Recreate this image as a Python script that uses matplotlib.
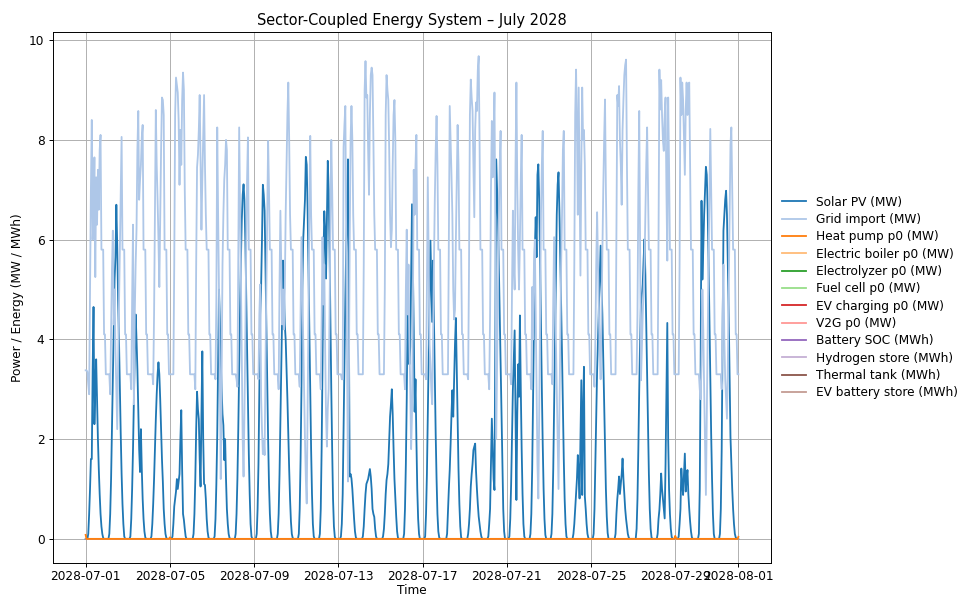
import numpy as np
import pandas as pd
import matplotlib
matplotlib.use("Agg")
import matplotlib.pyplot as plt

# ---------------- data (hourly, July 2028) ----------------
start = "2028-07-01 00:00"

solar_days = [
    [0,0,0,0.1,0.5,1.0,1.6,1.6,3.4,4.65,2.3,3.0,3.6,2.8,2.0,1.4,0.9,0.5,0.25,0.1,0.02,0,0,0],
    [0,0,0,0.1,0.5,1.2,2.2,3.2,4.2,5.2,5.65,6.7,5.9,4.8,4.0,3.0,2.1,1.3,0.7,0.3,0.05,0,0,0],
    [0,0,0,0.05,0.4,1.0,1.8,2.8,3.6,4.5,4.0,3.4,2.6,1.8,1.34,2.2,1.4,0.8,0.4,0.15,0.03,0,0,0],
    [0,0,0,0.05,0.3,0.7,1.2,1.8,2.4,2.9,3.3,3.54,3.3,2.8,2.2,1.6,1.15,0.6,0.3,0.1,0.02,0,0,0],
    [0,0,0,0.05,0.3,0.65,0.8,0.95,1.2,1.0,1.15,1.3,2.0,2.58,1.4,0.5,0.38,0.2,0.05,0,0,0,0,0],
    [0,0,0,0.1,0.5,1.2,2.2,2.95,2.6,2.4,1.6,1.05,2.5,3.76,2.0,1.1,1.08,0.8,0.4,0.15,0.03,0,0,0],
    [0,0,0,0.05,0.4,1.1,2.08,3.5,5.0,4.4,3.6,3.0,2.5,2.28,1.58,2.0,1.2,0.6,0.3,0.1,0.02,0,0,0],
    [0,0,0,0.1,0.5,1.2,2.2,3.4,4.6,5.6,6.4,6.9,7.11,6.8,6.0,4.9,3.8,2.7,1.7,0.9,0.3,0.05,0,0],
    [0,0,0,0.1,0.6,1.5,3.0,4.5,5.05,6.0,7.1,6.9,6.58,5.4,4.1,3.0,2.0,1.1,0.5,0.15,0.02,0,0,0],
    [0,0,0,0.1,0.5,1.3,2.4,3.6,4.6,5.58,5.0,4.3,4.0,3.4,2.8,2.1,1.4,0.8,0.35,0.1,0.02,0,0,0],
    [0,0,0,0.1,0.6,1.6,3.0,5.0,6.0,6.4,6.8,7.66,7.5,6.6,5.4,4.1,2.9,1.8,0.9,0.3,0.05,0,0,0],
    [0,0,0,0.1,0.6,1.8,3.5,5.5,6.57,6.2,5.22,6.4,7.58,7.0,5.8,4.4,3.0,1.8,0.8,0.25,0.04,0,0,0],
    [0,0,0,0.05,0.3,0.9,2.28,3.5,4.8,5.85,6.45,7.61,4.5,1.25,1.3,1.21,1.0,0.7,0.4,0.15,0.03,0,0,0],
    [0,0,0,0,0.05,0.25,0.6,0.9,1.1,1.15,1.2,1.3,1.4,1.25,1.0,0.6,0.5,0.44,0.2,0.05,0,0,0,0],
    [0,0,0,0.05,0.2,0.5,0.9,1.18,1.3,1.5,2.0,2.45,2.7,3.0,2.5,1.8,1.2,0.8,0.45,0.15,0.02,0,0,0],
    [0,0,0,0.1,0.6,1.5,2.8,4.65,3.9,3.5,3.85,5.2,6.71,5.5,4.2,2.55,3.2,2.0,1.0,0.4,0.1,0,0,0],
    [0,0,0,0.05,0.5,1.3,2.5,3.8,4.8,5.98,5.2,4.35,5.58,4.4,3.2,2.1,1.2,0.5,0.15,0.03,0,0,0,0],
    [0,0,0,0,0.1,0.55,1.0,1.38,1.9,2.5,2.98,2.45,3.2,3.9,4.43,3.4,2.3,1.4,0.7,0.25,0.03,0,0,0],
    [0,0,0,0,0.1,0.3,0.6,1.05,1.3,1.5,1.78,1.85,1.91,1.35,1.0,0.7,0.45,0.3,0.15,0.05,0,0,0,0],
    [0,0,0,0.05,0.3,0.6,1.5,2.41,1.8,1.2,0.98,4.5,7.61,7.0,6.4,5.5,4.5,3.5,2.5,1.4,0.6,0.15,0,0],
    [0,0,0,0.05,0.4,1.1,2.0,3.0,3.6,4.18,2.5,0.78,2.5,3.5,2.85,4.48,3.0,1.8,0.9,0.3,0.05,0,0,0],
    [0,0,0,0.1,0.5,1.4,2.8,4.4,5.8,6.45,5.65,7.3,7.51,6.8,5.6,4.3,3.0,1.9,1.0,0.4,0.08,0,0,0],
    [0,0,0,0.1,0.5,1.4,2.7,4.1,5.4,6.5,7.1,7.35,6.6,5.65,4.8,3.7,2.6,1.6,0.8,0.3,0.05,0,0,0],
    [0,0,0,0,0.1,0.3,0.6,0.9,1.2,1.68,1.3,0.81,2.0,3.18,0.88,2.5,3.45,0.85,0.6,0.3,0.1,0.02,0,0],
    [0,0,0,0.1,0.6,1.5,2.5,3.38,4.0,4.6,5.2,5.88,5.11,4.5,3.6,2.6,1.7,1.0,0.45,0.12,0,0,0,0],
    [0,0,0,0,0.1,0.5,0.8,1.0,1.25,0.9,1.1,1.3,1.61,1.2,0.9,0.6,0.4,0.25,0.1,0.03,0,0,0,0],
    [0,0,0,0,0.2,0.8,1.8,3.0,4.0,4.71,4.9,5.11,5.6,6.01,5.3,4.3,3.2,2.2,1.3,0.6,0.2,0.03,0,0],
    [0,0,0,0,0.1,0.4,0.58,0.9,1.31,1.0,0.8,0.6,0.41,1.5,3.0,4.33,2.0,1.0,0.5,0.2,0.04,0,0,0],
    [0,0,0,0,0.05,0.3,0.6,1.41,1.1,0.88,1.3,1.71,0.95,1.2,1.38,0.9,0.6,0.35,0.15,0.03,0,0,0,0],
    [0,0,0,0.1,1.0,3.5,6.78,5.2,5.8,6.5,7.0,7.46,7.3,6.6,5.6,4.4,3.2,2.1,1.2,0.5,0.1,0,0,0],
    [0,0,0,0.1,0.6,1.8,4.0,6.18,6.5,6.8,6.98,6.5,5.5,4.5,3.3,2.05,1.5,1.0,0.6,0.3,0.1,0.03,0,0],
]
solar_last = 0.0

grid_days = [
    [3.38,3.38,3.35,3.1,2.9,5.0,7.0,8.4,6.0,6.5,7.65,5.25,7.25,6.3,7.4,6.6,7.8,8.1,5.8,5.8,5.8,4.1,4.1,3.3],
    [3.3,3.3,3.3,3.3,2.9,4.2,5.4,6.18,4.3,5.0,3.8,3.0,2.2,3.5,4.6,5.8,7.0,8.06,5.8,5.8,5.8,4.1,4.1,3.3],
    [3.3,3.3,3.3,3.3,3.0,4.8,6.3,2.7,4.5,5.5,6.2,7.8,8.58,6.8,7.2,7.5,8.05,8.3,5.8,5.8,5.8,4.1,4.1,3.3],
    [3.3,3.3,3.3,3.3,3.3,3.1,4.5,6.5,8.6,7.5,6.8,6.0,5.05,6.5,7.8,8.85,8.8,8.5,5.8,5.8,5.8,4.1,4.1,3.3],
    [3.3,3.3,3.3,3.3,3.3,5.5,8.5,9.25,9.1,8.95,8.4,7.1,8.2,7.5,8.8,9.35,9.0,7.0,5.8,5.8,5.8,4.1,4.1,3.3],
    [3.3,3.3,3.3,3.3,3.3,3.0,5.5,7.45,7.7,8.2,8.9,7.6,6.2,7.2,8.0,8.9,7.5,6.5,5.8,5.8,5.8,4.1,4.1,3.3],
    [3.3,3.3,3.3,3.3,3.2,4.8,8.25,6.5,5.0,3.0,1.2,3.2,5.5,6.5,7.2,7.5,8.0,7.8,5.8,5.8,5.8,4.1,4.1,3.3],
    [3.3,3.3,3.3,3.3,3.2,3.05,5.5,8.25,6.8,5.2,3.5,2.0,1.25,2.5,4.0,5.8,7.2,8.05,5.8,5.8,5.8,4.1,4.1,3.3],
    [3.3,3.3,3.3,3.3,3.3,3.2,4.5,5.1,2.85,2.2,1.7,2.0,1.68,3.5,5.0,6.5,7.98,7.0,5.8,5.8,5.8,4.1,4.1,3.3],
    [3.3,3.3,3.3,3.3,3.0,5.1,6.58,5.5,4.3,5.0,4.2,5.0,6.5,7.5,8.5,9.15,8.0,6.5,5.8,5.8,5.8,4.1,4.1,3.3],
    [3.3,3.3,3.3,3.3,3.05,4.5,6.05,5.0,4.0,3.0,2.0,1.2,0.71,2.5,4.5,6.5,8.08,6.5,5.8,5.8,5.8,4.1,4.1,3.3],
    [3.3,3.3,3.3,3.3,3.0,4.4,6.05,4.7,5.5,3.8,2.5,1.85,2.6,3.0,4.5,6.4,8.0,7.0,5.8,5.8,5.8,4.1,4.1,3.3],
    [3.3,3.3,3.3,3.3,3.2,3.2,7.85,8.3,8.68,6.0,3.5,1.15,3.0,6.0,8.0,8.68,8.0,6.5,5.8,5.8,5.8,4.1,4.1,3.3],
    [3.3,3.3,3.3,3.3,3.3,5.5,9.0,9.58,8.85,8.9,7.8,6.9,8.5,9.3,9.45,9.3,8.0,6.5,5.8,5.8,5.8,4.1,4.1,3.3],
    [3.3,3.3,3.3,3.3,3.3,5.0,8.5,9.3,9.0,8.8,7.8,6.5,5.85,6.2,7.5,8.5,8.8,8.0,5.8,5.8,5.8,4.1,4.1,3.3],
    [3.3,3.3,3.3,3.3,3.0,5.0,6.2,4.5,5.5,4.0,3.0,1.8,2.5,4.5,7.4,6.5,7.5,8.1,5.8,5.8,5.8,4.1,4.1,3.3],
    [3.3,3.3,3.3,3.3,3.2,5.0,7.25,5.5,3.9,3.5,3.0,2.7,4.0,5.5,6.8,7.8,8.48,7.5,5.8,5.8,5.8,4.1,4.1,3.3],
    [3.3,3.3,3.3,3.3,3.3,3.3,6.0,8.68,8.0,7.3,6.5,5.0,4.4,4.6,6.0,7.2,8.3,7.5,5.8,5.8,5.8,4.1,4.1,3.3],
    [3.3,3.3,3.3,3.3,3.2,5.5,8.5,9.21,8.85,8.58,7.5,6.45,8.2,8.75,8.58,9.4,9.68,8.0,5.8,5.8,5.8,4.1,4.1,3.3],
    [3.3,3.3,3.3,3.3,3.0,4.5,7.0,8.38,7.25,8.0,8.95,6.0,2.0,3.5,5.0,6.5,7.5,8.18,5.8,5.8,5.8,4.1,4.1,3.3],
    [3.3,3.3,3.3,3.3,3.3,3.1,5.0,6.58,5.5,5.0,7.5,9.15,7.1,5.8,5.0,6.0,7.2,8.1,5.8,5.8,5.8,4.1,4.1,3.3],
    [3.3,3.3,3.3,3.3,3.0,5.05,4.0,5.5,6.0,4.5,3.0,1.5,0.81,2.5,4.5,6.5,7.5,8.18,5.8,5.8,5.8,4.1,4.1,3.3],
    [3.3,3.3,3.3,3.3,3.1,4.8,6.05,5.0,4.0,3.0,2.0,1.0,2.5,4.0,5.5,6.5,7.8,8.18,5.8,5.8,5.8,4.1,4.1,3.3],
    [3.3,3.3,3.3,3.3,3.3,5.5,8.5,9.41,8.25,6.5,9.05,7.2,5.28,7.5,9.05,8.0,8.2,7.5,5.8,5.8,5.8,4.1,4.1,3.3],
    [3.3,3.3,3.3,3.3,3.05,4.0,5.5,6.55,5.5,4.5,3.8,3.2,4.5,5.8,7.0,8.0,8.81,7.0,5.8,5.8,5.8,4.1,4.1,3.3],
    [3.3,3.3,3.3,3.3,3.3,6.0,8.9,8.68,9.08,8.0,7.5,6.7,8.2,8.8,9.3,9.5,9.61,7.5,5.8,5.8,5.8,4.1,4.1,3.3],
    [3.3,3.3,3.3,3.3,3.3,4.5,7.0,8.58,6.0,3.18,3.8,4.5,5.0,5.5,6.5,7.5,8.25,7.0,5.8,5.8,5.8,4.1,4.1,3.3],
    [3.3,3.3,3.3,3.3,3.3,6.0,9.41,8.61,9.2,8.5,8.0,7.78,8.5,8.85,7.0,5.58,8.85,7.5,5.8,5.8,5.8,4.1,4.1,3.3],
    [3.3,3.3,3.3,3.3,3.3,5.5,9.25,8.5,9.15,8.8,8.0,7.3,8.6,9.15,8.5,9.0,9.15,7.5,5.8,5.8,5.8,4.1,4.1,3.3],
    [3.3,3.3,3.3,3.3,3.0,2.8,3.5,5.0,4.2,3.0,2.0,0.88,2.5,4.0,5.5,6.8,8.22,7.0,5.8,5.8,5.8,4.1,4.1,3.3],
    [3.3,3.3,3.3,3.3,3.3,3.0,4.5,5.5,4.0,3.2,2.8,2.41,3.5,5.0,6.5,7.9,8.25,7.0,5.8,5.8,5.8,4.1,4.1,3.3],
]
grid_last = 3.3

# heat pump: zero except a few tiny values (hour offset from start, MW)
heat_pump_hours = [0, 96, 672, 673, 744]
heat_pump_vals = [0.08, 0.03, 0.06, 0.02, 0.04]

labels = [
    "Solar PV (MW)", "Grid import (MW)", "Heat pump p0 (MW)",
    "Electric boiler p0 (MW)", "Electrolyzer p0 (MW)", "Fuel cell p0 (MW)",
    "EV charging p0 (MW)", "V2G p0 (MW)", "Battery SOC (MWh)",
    "Hydrogen store (MWh)", "Thermal tank (MWh)", "EV battery store (MWh)",
]

# ---------------- build series ----------------
solar = np.array([v for d in solar_days for v in d] + [solar_last])
grid = np.array([v for d in grid_days for v in d] + [grid_last])
n = len(solar)
idx = pd.date_range(start, periods=n, freq="h")
heat = np.zeros(n)
heat[heat_pump_hours] = heat_pump_vals
zero = np.zeros(n)

series = [solar, grid, heat] + [zero] * 9
colors = plt.get_cmap("tab20").colors

# ---------------- plot ----------------
dpi = 87.0
fig = plt.figure(figsize=(960 / dpi, 597 / dpi), dpi=dpi)
ax = fig.add_axes([53 / 960, 1 - 563 / 597, (771 - 53) / 960, (563 - 32) / 597])
for i, (s, lab, c) in enumerate(zip(series, labels, colors)):
    ax.plot(idx, s, label=lab, color=c, linewidth=1.5,
            zorder=2.5 if i == 2 else 2)

ax.set_title("Sector-Coupled Energy System – July 2028", fontsize=12)
ax.set_xlabel("Time", labelpad=1)
ax.set_ylabel("Power / Energy (MW / MWh)")
ax.tick_params(axis="x", pad=2.5)
ax.grid(True)
ax.legend(loc="center left", bbox_to_anchor=(1.0, 0.5), frameon=False,
          labelspacing=0.36)

fig.savefig("out.png", dpi=dpi)
